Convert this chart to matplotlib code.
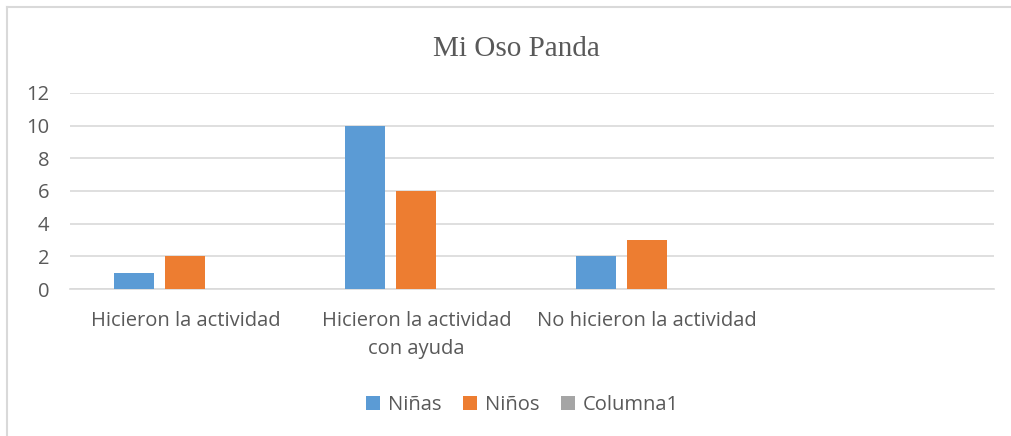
import matplotlib
matplotlib.use("Agg")
import matplotlib.pyplot as plt
from matplotlib.lines import Line2D
from matplotlib.patches import Patch
import numpy as np

categories = ["Hicieron la actividad", "Hicieron la actividad\ncon ayuda",
              "No hicieron la actividad", ""]
series_names = ["Niñas", "Niños", "Columna1"]
ninas = [1, 10, 2, 0]
ninos = [2, 6, 3, 0]
columna1 = [0, 0, 0, 0]
y_ticks = [0, 2, 4, 6, 8, 10, 12]

COLORS = ["#5b9bd5", "#ed7d31", "#a5a5a5"]
TXT = "#595959"
GRID = "#d9d9d9"
FONT = "Open Sans"
FS = 14.5

fig = plt.figure(figsize=(10.11, 4.36), dpi=100)
ax = fig.add_axes([0.0692, 0.337, 0.9138, 0.450])

x = np.arange(len(categories))
w = 40 / 231
step = 51 / 231
for i, (vals, col) in enumerate(zip((ninas, ninos, columna1), COLORS)):
    ax.bar(x + (i - 1) * step, vals, width=w, color=col, zorder=3)

ax.set_xlim(-0.5, len(categories) - 0.5)
ax.set_ylim(0, 12)
ax.set_yticks(y_ticks)
ax.set_yticklabels([str(v) for v in y_ticks], fontsize=FS, color=TXT,
                   family=FONT)
ax.set_xticks(x)
ax.set_xticklabels(categories, fontsize=FS, color=TXT, family=FONT,
                   linespacing=1.55)
ax.tick_params(axis="both", length=0)
ax.tick_params(axis="y", pad=15)
ax.tick_params(axis="x", pad=15.5)
ax.grid(axis="y", color=GRID, lw=1.2, zorder=0)
for s in ("top", "right", "left"):
    ax.spines[s].set_visible(False)
ax.spines["bottom"].set_color(GRID)
ax.spines["bottom"].set_linewidth(1.2)

fig.text(0.511, 0.888, "Mi Oso Panda", ha="center", va="center",
         fontsize=21, color=TXT, family="Liberation Serif")

handles = [Patch(facecolor=c, edgecolor="none", label=n)
           for c, n in zip(COLORS, series_names)]
fig.legend(handles=handles, loc="center", bbox_to_anchor=(0.517, 0.072),
           ncol=3, frameon=False, handlelength=0.7, handleheight=0.7,
           handletextpad=0.4, columnspacing=1.05,
           prop={"family": FONT, "size": FS}, labelcolor=TXT)

# chart frame (only top and left edges visible in the crop)
fig.add_artist(Line2D([7 / 1011, 7 / 1011], [0, 1 - 7 / 436],
                      transform=fig.transFigure, color=GRID, lw=1.5))
fig.add_artist(Line2D([7 / 1011, 1], [1 - 7 / 436, 1 - 7 / 436],
                      transform=fig.transFigure, color=GRID, lw=1.5))

fig.savefig("out.png", dpi=100)
